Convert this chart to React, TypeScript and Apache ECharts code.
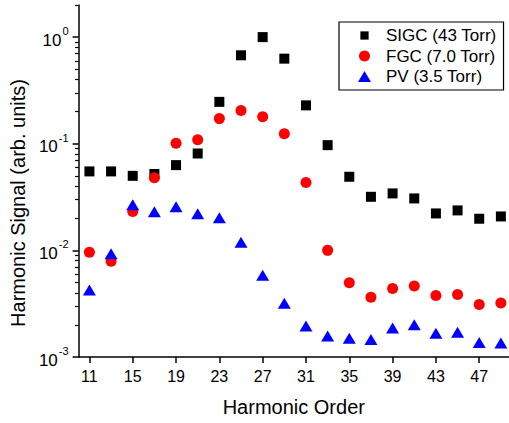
import React, { useEffect, useRef } from "react";
import * as echarts from "echarts";

const harmonics = [11, 13, 15, 17, 19, 21, 23, 25, 27, 29, 31, 33, 35, 37, 39, 41, 43, 45, 47, 49];
const sigc = [0.055, 0.055, 0.050, 0.052, 0.063, 0.081, 0.247, 0.675, 1.0, 0.628, 0.229, 0.097, 0.049, 0.0318, 0.0342, 0.0307, 0.0222, 0.0237, 0.0198, 0.0208];
const fgc = [0.0096, 0.0079, 0.0232, 0.048, 0.101, 0.109, 0.172, 0.205, 0.179, 0.124, 0.0433, 0.0100, 0.00498, 0.00363, 0.00438, 0.00463, 0.00377, 0.00385, 0.00310, 0.00321];
const pv = [0.00425, 0.0093, 0.0268, 0.0230, 0.0257, 0.0220, 0.0202, 0.0119, 0.00583, 0.00319, 0.00195, 0.00157, 0.0015, 0.00146, 0.00187, 0.00201, 0.00167, 0.00171, 0.00137, 0.00135];
const xTicks = [11, 15, 19, 23, 27, 31, 35, 39, 43, 47];
const yMajor = [0.001, 0.01, 0.1, 1];
const yMinor = [
  0.002, 0.003, 0.004, 0.005, 0.006, 0.007, 0.008, 0.009,
  0.02, 0.03, 0.04, 0.05, 0.06, 0.07, 0.08, 0.09,
  0.2, 0.3, 0.4, 0.5, 0.6, 0.7, 0.8, 0.9,
  2,
];
const seriesNames = ["SIGC (43 Torr)", "FGC (7.0 Torr)", "PV (3.5 Torr)"];

const FONT = "'Liberation Sans', Arial, sans-serif";

export default function App() {
  const ref = useRef<HTMLDivElement>(null);
  useEffect(() => {
    if (!ref.current) return;
    const chart = echarts.init(ref.current, null, { renderer: "svg" });
    const pair = (vals: number[]) => harmonics.map((h, i) => [h, vals[i]]);
    chart.setOption({
      animation: false,
      backgroundColor: "#fff",
      grid: { left: 75, right: 0, top: 5, bottom: 66, containLabel: false },
      legend: {
        orient: "vertical",
        left: 339,
        top: 22,
        borderColor: "#000",
        borderWidth: 1.2,
        borderRadius: 0,
        padding: [5, 7, 5, 19],
        itemGap: 3.5,
        itemWidth: 13,
        itemHeight: 11,
        textStyle: { fontSize: 17, fontFamily: FONT, color: "#000", padding: [0, 0, 0, 10] },
        data: [
          { name: seriesNames[0], icon: "path://M0,0M12,12M1.5,1.5L10.5,1.5L10.5,10.5L1.5,10.5Z" },
          { name: seriesNames[1], icon: "circle" },
          { name: seriesNames[2], icon: "triangle" },
        ],
      },
      xAxis: {
        type: "value",
        min: 10,
        max: 49.75,
        name: "Harmonic Order",
        nameLocation: "middle",
        nameGap: 40,
        nameTextStyle: { fontSize: 20, fontFamily: FONT, color: "#000" },
        axisLine: { show: true, lineStyle: { color: "#000", width: 1.5 } },
        axisTick: { show: true, inside: false, length: 6, customValues: xTicks, lineStyle: { color: "#000", width: 1.5 } },
        axisLabel: { customValues: xTicks, margin: 11, fontSize: 16, fontFamily: FONT, color: "#000" },
        splitLine: { show: false },
      },
      yAxis: [
        {
          type: "log",
          logBase: 10,
          min: 0.001,
          max: 2,
          position: "left",
          name: "Harmonic Signal (arb. units)",
          nameLocation: "middle",
          nameGap: 46,
          nameTextStyle: { fontSize: 20, fontFamily: FONT, color: "#000", padding: [0, 44, 0, 0] },
          axisLine: { show: true, lineStyle: { color: "#000", width: 1.5 } },
          axisTick: { show: true, inside: false, length: 6, customValues: yMajor, lineStyle: { color: "#000", width: 1.5 } },
          axisLabel: {
            customValues: yMajor,
            margin: 10,
            fontSize: 17,
            fontFamily: FONT,
            color: "#000",
            formatter: (v: number) => `{base|10}{sup|${Math.round(Math.log10(v))}}`,
            rich: {
              base: { fontSize: 17, fontFamily: FONT, color: "#000", padding: [6, 0, 0, 0] },
              sup: { fontSize: 11, fontFamily: FONT, color: "#000", verticalAlign: "top", padding: [0, 0, 0, 1] },
            },
          },
          splitLine: { show: false },
        },
        {
          type: "log",
          logBase: 10,
          min: 0.001,
          max: 2,
          position: "left",
          offset: 0,
          axisLine: { show: false },
          axisTick: { show: true, inside: false, length: 3.5, customValues: yMinor, lineStyle: { color: "#000", width: 1.2 } },
          axisLabel: { show: false },
          splitLine: { show: false },
        },
      ],
      series: [
        {
          name: seriesNames[0],
          type: "scatter",
          symbol: "rect",
          symbolSize: 10,
          itemStyle: { color: "#000000", opacity: 1 },
          data: pair(sigc),
          z: 2,
        },
        {
          name: seriesNames[1],
          type: "scatter",
          symbol: "circle",
          symbolSize: 11,
          itemStyle: { color: "#ff0000", opacity: 1 },
          data: pair(fgc),
          z: 3,
        },
        {
          name: seriesNames[2],
          type: "scatter",
          symbol: "triangle",
          symbolSize: [13, 11],
          itemStyle: { color: "#0000ff", opacity: 1 },
          data: pair(pv),
          z: 4,
        },
      ],
    });
    return () => chart.dispose();
  }, []);
  return <div ref={ref} style={{ position: "fixed", left: 0, top: 0, width: 509, height: 423 }} />;
}
